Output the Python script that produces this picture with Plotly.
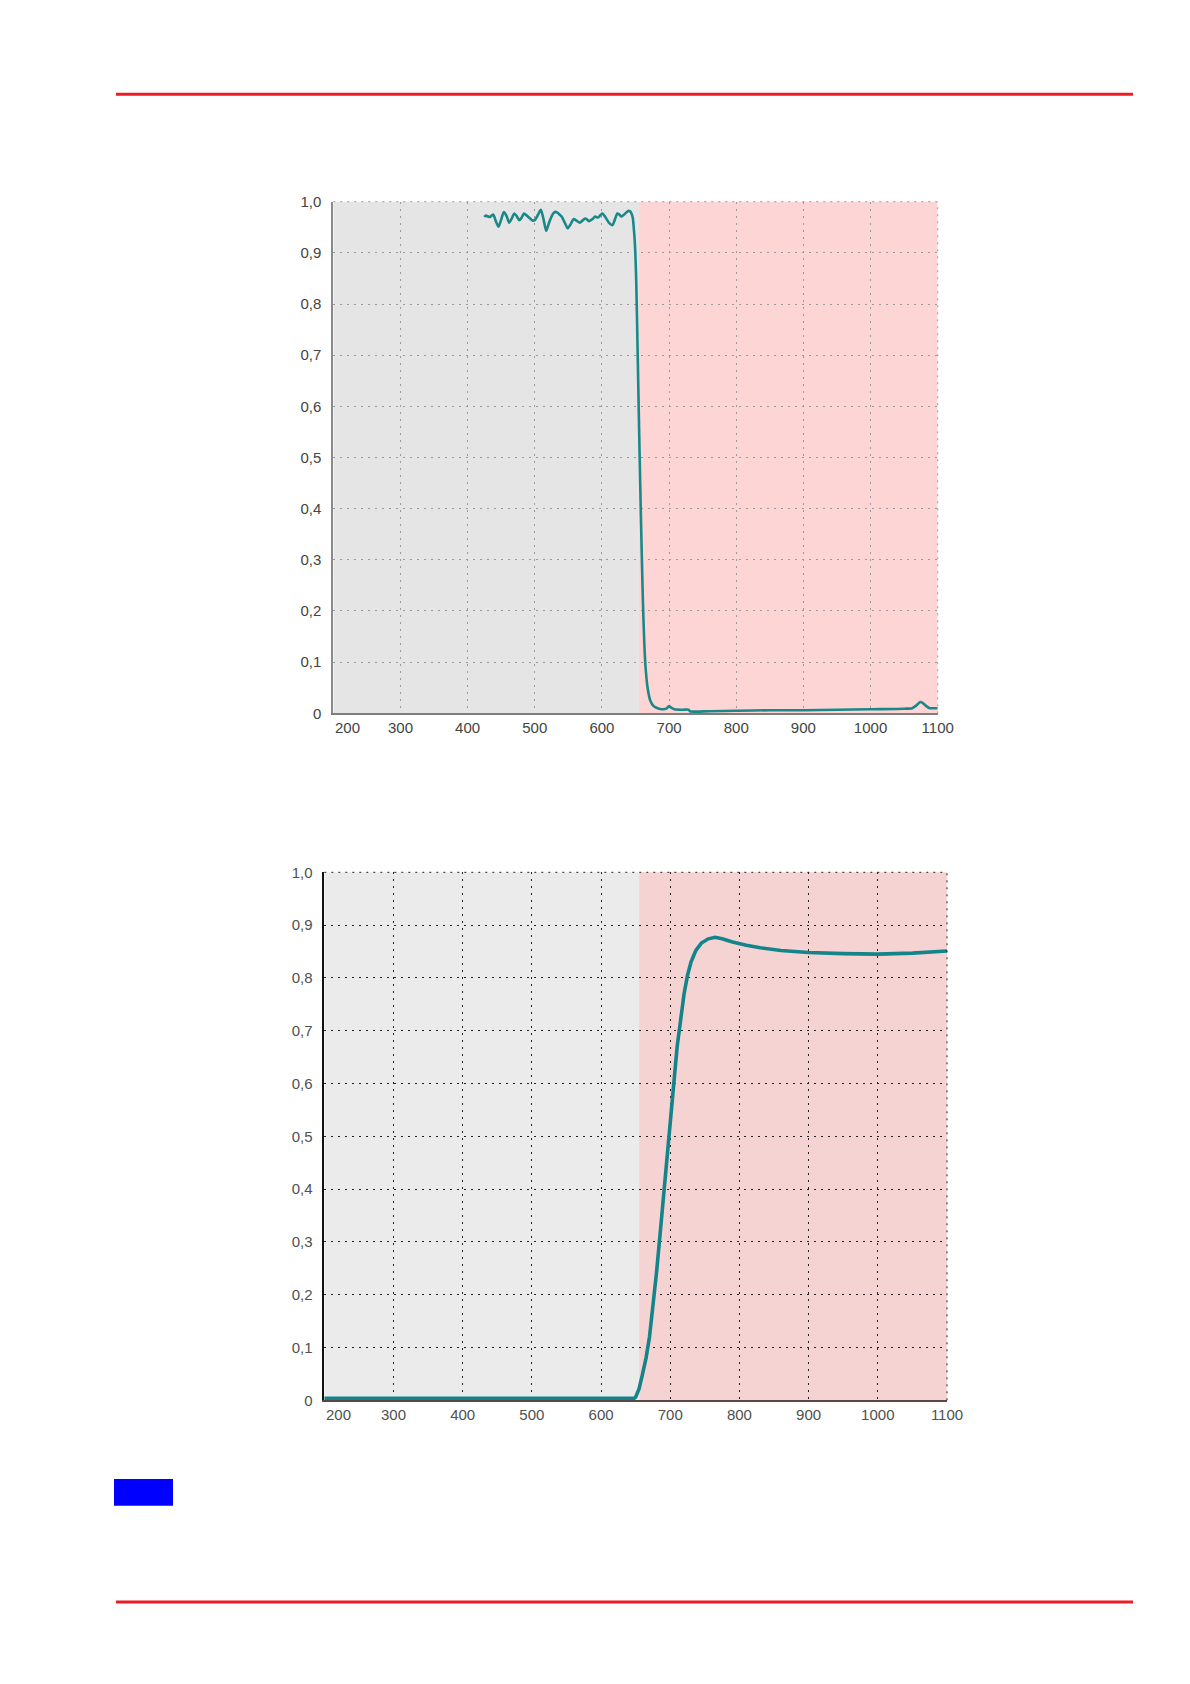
import plotly.graph_objects as go

# Short-pass filter transmission (upper chart)
sp_wavelength = [425, 427, 433, 438, 442, 446, 450, 454, 458, 462, 466, 469.5, 473, 477, 481,
                 484, 488, 493, 497, 500, 505, 509, 513, 517, 521, 525, 528, 532, 536, 540,
                 545, 549, 553, 558, 562, 567, 571, 575, 578, 581, 586, 590, 594, 598, 601,
                 604, 607, 611, 615.5, 619, 623, 626, 629, 634, 639, 642, 644, 646, 647,
                 649, 651, 653, 655, 657, 659, 661, 663, 665, 668, 672, 677, 683, 690, 696,
                 700, 703, 708, 720, 729, 731, 760, 800, 850, 900, 950, 1000, 1050, 1062,
                 1068, 1074, 1078, 1083, 1088, 1094, 1100]
sp_transmission = [0.970, 0.973, 0.970, 0.975, 0.962, 0.951, 0.965, 0.980, 0.972, 0.959, 0.968,
                   0.977, 0.972, 0.964, 0.970, 0.977, 0.973, 0.967, 0.963, 0.964, 0.975, 0.984,
                   0.966, 0.943, 0.958, 0.971, 0.978, 0.980, 0.976, 0.971, 0.958, 0.948, 0.955,
                   0.966, 0.963, 0.959, 0.963, 0.967, 0.965, 0.962, 0.966, 0.971, 0.969, 0.974,
                   0.977, 0.972, 0.966, 0.958, 0.954, 0.964, 0.977, 0.975, 0.971, 0.976, 0.982,
                   0.981, 0.977, 0.968, 0.955, 0.92, 0.85, 0.72, 0.58, 0.45, 0.33, 0.22, 0.14,
                   0.09, 0.05, 0.025, 0.014, 0.010, 0.008, 0.009, 0.014, 0.011, 0.008, 0.007,
                   0.007, 0.004, 0.004, 0.005, 0.006, 0.006, 0.007, 0.008, 0.009, 0.010, 0.015,
                   0.022, 0.020, 0.014, 0.010, 0.010, 0.010]

# Long-pass filter transmission (lower chart)
lp_wavelength = [200, 300, 400, 500, 600, 648, 650, 655, 660, 665, 670, 675, 680, 685, 690,
                 695, 700, 705, 710, 715, 720, 725, 730, 737, 745, 755, 765, 775, 790, 810,
                 830, 860, 900, 950, 1000, 1050, 1100]
lp_transmission = [0.004, 0.004, 0.004, 0.004, 0.004, 0.004, 0.006, 0.022, 0.05, 0.08, 0.12,
                   0.175, 0.24, 0.31, 0.38, 0.45, 0.53, 0.60, 0.67, 0.72, 0.77, 0.805, 0.83,
                   0.852, 0.866, 0.874, 0.877, 0.874, 0.868, 0.862, 0.857, 0.852, 0.848, 0.846,
                   0.845, 0.847, 0.851]

# Wavelength bands shaded behind each chart
visible_band = [200, 655]
infrared_band = [655, 1100]

x_ticks = [300, 400, 500, 600, 700, 800, 900, 1000, 1100]
x_tick_text = ["300", "400", "500", "600", "700", "800", "900", "1000", "1100"]
y_ticks = [0, 0.1, 0.2, 0.3, 0.4, 0.5, 0.6, 0.7, 0.8, 0.9, 1.0]
y_tick_text = ["0", "0,1", "0,2", "0,3", "0,4", "0,5", "0,6", "0,7", "0,8", "0,9", "1,0"]

W, H = 1190, 1684


def px_x(p):
    return p / W


def px_y(p):
    return 1 - p / H


fig = go.Figure()

fig.add_trace(go.Scatter(x=sp_wavelength, y=sp_transmission, mode="lines",
                         line=dict(color="#1a8888", width=2.6, shape="spline", smoothing=0.7),
                         xaxis="x", yaxis="y", showlegend=False, hoverinfo="skip"))
fig.add_trace(go.Scatter(x=lp_wavelength, y=lp_transmission, mode="lines",
                         line=dict(color="#12848a", width=3.6), xaxis="x2", yaxis="y2",
                         showlegend=False, hoverinfo="skip"))

font_top = dict(family="Liberation Sans, Arial, sans-serif", size=15, color="#444444")
font_bot = dict(family="Liberation Sans, Arial, sans-serif", size=15, color="#505050")

common_x = dict(range=[200, 1100], tickvals=x_ticks, ticktext=x_tick_text, showgrid=True,
                zeroline=False, ticks="", showline=True, fixedrange=True,
                ticklabelstandoff=0, automargin=False)
common_y = dict(range=[0, 1], tickvals=y_ticks, ticktext=y_tick_text, showgrid=True,
                zeroline=False, ticks="", showline=True, fixedrange=True,
                ticklabelstandoff=7, automargin=False)

fig.update_layout(
    width=W, height=H,
    autosize=False,
    margin=dict(l=0, r=0, t=0, b=0, pad=0, autoexpand=False),
    paper_bgcolor="white",
    plot_bgcolor="rgba(0,0,0,0)",
    showlegend=False,
    xaxis=dict(common_x, domain=[px_x(333.3), px_x(937.7)], anchor="y",
               gridcolor="#9a9a9a", griddash="2px,5px", gridwidth=1,
               linecolor="#7d7d7d", linewidth=2, tickfont=font_top),
    yaxis=dict(common_y, domain=[px_y(713.3), px_y(201.7)], anchor="x",
               gridcolor="#9a9a9a", griddash="2px,5px", gridwidth=1,
               linecolor="#8a8a8a", linewidth=2, tickfont=font_top),
    xaxis2=dict(common_x, domain=[px_x(324.3), px_x(947)], anchor="y2",
                gridcolor="#222222", griddash="2px,5px", gridwidth=1,
                linecolor="#5a4646", linewidth=2, tickfont=font_bot),
    yaxis2=dict(common_y, domain=[px_y(1400.3), px_y(872.3)], anchor="x2",
                gridcolor="#222222", griddash="2px,5px", gridwidth=1,
                linecolor="#111111", linewidth=1.5, tickfont=font_bot),
)

shapes = []
# shaded bands
for xr, yr, grey, red in (("x", "y", "#e5e5e5", "#fdd5d5"), ("x2", "y2", "#ebebeb", "#f6d3d3")):
    shapes.append(dict(type="rect", xref=xr, yref=yr + " domain", x0=visible_band[0],
                       x1=visible_band[1], y0=0, y1=1, fillcolor=grey, line_width=0,
                       layer="below"))
    shapes.append(dict(type="rect", xref=xr, yref=yr + " domain", x0=infrared_band[0],
                       x1=infrared_band[1], y0=0, y1=1, fillcolor=red, line_width=0,
                       layer="below"))
    # dotted frame on the top and right edges
    col = "#9a9a9a" if xr == "x" else "#222222"
    shapes.append(dict(type="line", xref=xr + " domain", yref=yr + " domain", x0=0, x1=1,
                       y0=1, y1=1, line=dict(color=col, width=1, dash="2px,5px"),
                       layer="above"))
    shapes.append(dict(type="line", xref=xr + " domain", yref=yr + " domain", x0=1, x1=1,
                       y0=0, y1=1, line=dict(color=col, width=1, dash="2px,5px"),
                       layer="above"))

# page rules and marker block
shapes.append(dict(type="line", xref="paper", yref="paper", x0=px_x(116), x1=px_x(1133),
                   y0=px_y(94.3), y1=px_y(94.3), line=dict(color="#ec1c24", width=3)))
shapes.append(dict(type="line", xref="paper", yref="paper", x0=px_x(116), x1=px_x(1133),
                   y0=px_y(1602), y1=px_y(1602), line=dict(color="#ec1c24", width=3)))
shapes.append(dict(type="rect", xref="paper", yref="paper", x0=px_x(114), x1=px_x(173),
                   y0=px_y(1505.7), y1=px_y(1479), fillcolor="#0000ff", line_width=0))
fig.update_layout(shapes=shapes)

# first x label sits just inside the left axis
fig.add_annotation(x=200, y=0, xref="x", yref="y", text="200", showarrow=False,
                   xanchor="left", yanchor="top", yshift=-4, xshift=0, font=font_top)
fig.add_annotation(x=200, y=0, xref="x2", yref="y2", text="200", showarrow=False,
                   xanchor="left", yanchor="top", yshift=-4, xshift=0, font=font_bot)

fig.write_html("out.html")
